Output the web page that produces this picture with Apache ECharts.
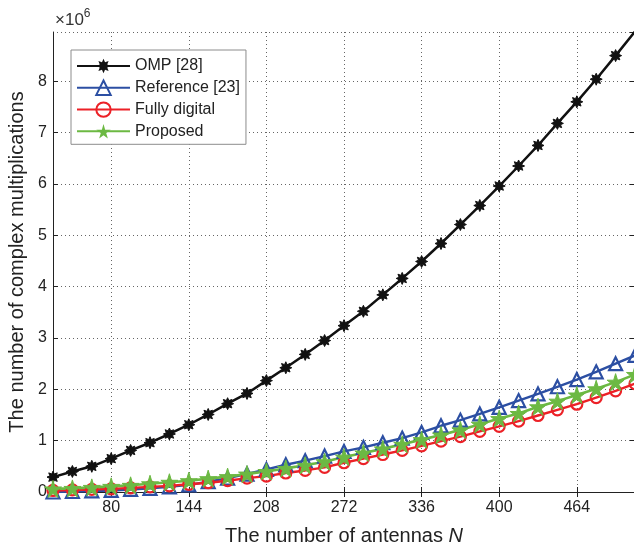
<!DOCTYPE html>
<html>
<head>
<meta charset="utf-8">
<script src="https://cdn.jsdelivr.net/npm/echarts@6/dist/echarts.min.js"></script>
<style>
  html, body { margin: 0; padding: 0; background: #fff; }
  #chart { width: 634px; height: 546px; }
</style>
</head>
<body>
<div id="chart"></div>
<script>
// number of antennas N
const antennas = [32, 48, 64, 80, 96, 112, 128, 144, 160, 176, 192, 208, 224, 240, 256, 272,
  288, 304, 320, 336, 352, 368, 384, 400, 416, 432, 448, 464, 480, 496, 512];
// complex multiplications, in units of 10^6
const ompData = [0.29, 0.40, 0.50, 0.65, 0.81, 0.96, 1.13, 1.31, 1.51, 1.72, 1.92, 2.17, 2.42, 2.68, 2.95, 3.24,
  3.52, 3.84, 4.16, 4.49, 4.84, 5.21, 5.58, 5.96, 6.35, 6.75, 7.18, 7.60, 8.04, 8.50, 8.97];
const referenceData = [0.00, 0.01, 0.02, 0.03, 0.05, 0.07, 0.10, 0.14, 0.20, 0.27, 0.35, 0.44, 0.53, 0.61, 0.70, 0.79,
  0.87, 0.96, 1.05, 1.16, 1.29, 1.40, 1.52, 1.65, 1.78, 1.91, 2.05, 2.19, 2.34, 2.50, 2.66];
const fullyDigitalData = [0.03, 0.04, 0.05, 0.06, 0.08, 0.10, 0.12, 0.15, 0.18, 0.22, 0.27, 0.31, 0.37, 0.42, 0.48, 0.57,
  0.65, 0.73, 0.81, 0.90, 0.99, 1.08, 1.18, 1.28, 1.38, 1.49, 1.60, 1.71, 1.84, 1.97, 2.11];
const proposedData = [0.06, 0.07, 0.09, 0.11, 0.13, 0.16, 0.19, 0.22, 0.26, 0.30, 0.35, 0.40, 0.46, 0.52, 0.59, 0.68,
  0.76, 0.84, 0.93, 1.02, 1.11, 1.21, 1.32, 1.43, 1.53, 1.66, 1.77, 1.89, 2.01, 2.14, 2.29];
const xTicks = [80, 144, 208, 272, 336, 400, 464];

const fontFamily = "'Liberation Sans', Arial, sans-serif";
const asterisk = "path://M50,0 L60.7,24.1 L85.4,14.6 L75.9,39.3 L100,50 L75.9,60.7 L85.4,85.4 L60.7,75.9 L50,100 L39.3,75.9 L14.6,85.4 L24.1,60.7 L0,50 L24.1,39.3 L14.6,14.6 L39.3,24.1 Z";
const star = "path://M50,0 L61,35 L98,35 L68,57 L79,91 L50,70 L21,91 L32,57 L2,35 L39,35 Z";

const pairs = (ys) => antennas.map((n, i) => [n, ys[i]]);

const chart = echarts.init(document.getElementById("chart"));
const option = {
    backgroundColor: "#fff",
    animation: false,
    textStyle: { fontFamily: fontFamily },
    grid: { left: 53, right: -1, top: 32, bottom: 54, outerBoundsMode: "none", containLabel: false },
    legend: {
        orient: "vertical",
        left: 71,
        top: 50,
        padding: [8, 6, 5, 5],
        itemWidth: 53,
        itemHeight: 18,
        itemGap: 5.5,
        backgroundColor: "#fff",
        borderColor: "#8c8c8c",
        borderWidth: 1,
        textStyle: { color: "#222", fontSize: 16, fontFamily: fontFamily },
        data: ["OMP [28]", "Reference [23]", "Fully digital", "Proposed"],
    },
    graphic: [{
        type: "text",
        left: 55,
        top: 8,
        style: {
            text: "{a|×10}{b|6}",
            rich: {
                a: { fontSize: 17, fontFamily: fontFamily, fill: "#333", verticalAlign: "bottom" },
                b: { fontSize: 12, fontFamily: fontFamily, fill: "#333", verticalAlign: "top", padding: [0, 0, 9, 0] },
            },
        },
    }],
    xAxis: [{
        type: "value",
        min: 32,
        max: 512,
        name: "{t|The number of antennas }{n|N}",
        nameLocation: "middle",
        nameGap: 34,
        nameTextStyle: {
            rich: {
                t: { fontSize: 20, color: "#222", fontFamily: fontFamily },
                n: { fontSize: 20, color: "#222", fontFamily: fontFamily, fontStyle: "italic" },
            },
        },
        axisLine: { lineStyle: { color: "#222", width: 1 } },
        axisTick: { inside: true, length: 5, customValues: xTicks, lineStyle: { color: "#222" } },
        axisLabel: { customValues: xTicks, fontSize: 16, color: "#222", margin: 8 },
        splitLine: { show: true, lineStyle: { type: [1, 3], color: "#666", width: 1 } },
    }, {
        type: "value",
        position: "top",
        min: 32,
        max: 512,
        axisLine: { lineStyle: { color: "#222", width: 1 } },
        axisTick: { inside: true, length: 5, customValues: xTicks, lineStyle: { color: "#222" } },
        axisLabel: { show: false },
        splitLine: { show: false },
    }],
    yAxis: [{
        type: "value",
        min: 0,
        max: 8.96,
        interval: 1,
        name: "The number of complex multiplications",
        nameLocation: "middle",
        nameGap: 24,
        nameTextStyle: { fontSize: 20, color: "#222", fontFamily: fontFamily },
        axisLine: { show: true, lineStyle: { color: "#222", width: 1 } },
        axisTick: { inside: true, length: 5, lineStyle: { color: "#222" } },
        axisLabel: { fontSize: 16, color: "#222", margin: 6, showMaxLabel: false },
        splitLine: { show: true, lineStyle: { type: [1, 3], color: "#666", width: 1 } },
    }, {
        type: "value",
        position: "right",
        min: 0,
        max: 8.96,
        interval: 1,
        axisLine: { show: true, lineStyle: { color: "#222", width: 1 } },
        axisTick: { show: true, inside: true, length: 5, lineStyle: { color: "#222" } },
        axisLabel: { show: false },
        splitLine: { show: false },
    }],
    series: [
        {
            name: "OMP [28]",
            type: "line",
            data: pairs(ompData),
            symbol: asterisk,
            symbolSize: 12,
            lineStyle: { color: "#111", width: 2.5 },
            itemStyle: { color: "#111", borderColor: "#111" },
        },
        {
            name: "Reference [23]",
            type: "line",
            data: pairs(referenceData),
            symbol: "triangle",
            symbolSize: 13,
            lineStyle: { color: "#2c4fa3", width: 2.4 },
            itemStyle: { color: "rgba(255,255,255,0)", borderColor: "#2c4fa3", borderWidth: 2.2 },
        },
        {
            name: "Fully digital",
            type: "line",
            data: pairs(fullyDigitalData),
            symbol: "circle",
            symbolSize: 11,
            lineStyle: { color: "#ec2127", width: 2.4 },
            itemStyle: { color: "rgba(255,255,255,0)", borderColor: "#ec2127", borderWidth: 2.2 },
        },
        {
            name: "Proposed",
            type: "line",
            data: pairs(proposedData),
            symbol: star,
            symbolSize: 17,
            lineStyle: { color: "#6cb943", width: 2.6 },
            itemStyle: { color: "#6cb943", borderColor: "#6cb943" },
        },
    ],
};
chart.setOption(option);
</script>
</body>
</html>
